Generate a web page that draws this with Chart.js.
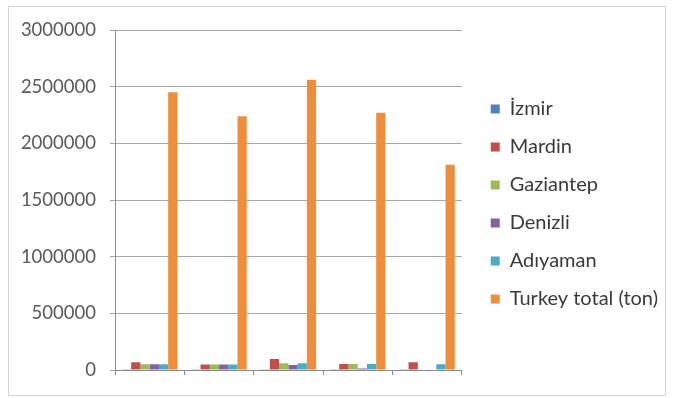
<!DOCTYPE html>
<html>
<head>
<meta charset="utf-8">
<script src="https://cdn.jsdelivr.net/npm/chart.js@4/dist/chart.umd.min.js"></script>
<style>
  html, body { margin: 0; padding: 0; background: #ffffff; }
  #wrap { position: relative; width: 673px; height: 398px; }
</style>
</head>
<body>
<div id="wrap"><canvas id="c" width="673" height="398"></canvas></div>
<script>
// Category slots along the x axis (unlabelled groups)
const categories = ['', '', '', '', ''];

// Production per province and national total, in tons
const izmir     = [3000, 3000, 3000, 3000, 3000];
const mardin    = [68000, 48000, 97000, 53000, 68000];
const gaziantep = [50000, 48000, 59000, 53000, 5000];
const denizli   = [50000, 48000, 44000, 13000, 5000];
const adiyaman  = [50000, 48000, 59000, 53000, 50000];
const turkeyTotal = [2450000, 2240000, 2560000, 2270000, 1810000];

const seriesNames = ['İzmir', 'Mardin', 'Gaziantep', 'Denizli', 'Adıyaman', 'Turkey total (ton)'];
const seriesColors = ['#4F81BD', '#C0504D', '#9BBB59', '#8064A2', '#4BACC6', '#EE8E3C'];

// Value axis ticks
const yTicks = [0, 500000, 1000000, 1500000, 2000000, 2500000, 3000000];

const seriesValues = [izmir, mardin, gaziantep, denizli, adiyaman, turkeyTotal];

const FONT = 'Lato';
const TICK_SIZE = 18.5;
const LEGEND_SIZE = 20;

const frame = {
  id: 'frame',
  beforeDraw(chart) {
    const ctx = chart.ctx;
    ctx.save();
    ctx.fillStyle = '#ffffff';
    ctx.fillRect(0, 0, chart.width, chart.height);
    ctx.strokeStyle = '#d4d4d4';
    ctx.lineWidth = 1;
    ctx.strokeRect(8.5, 6.5, 657, 389);
    ctx.restore();
  }
};

function draw() {
  new Chart(document.getElementById('c'), {
    type: 'bar',
    data: {
      labels: categories,
      datasets: seriesNames.map((name, i) => ({
        label: name,
        data: seriesValues[i],
        backgroundColor: seriesColors[i],
        borderWidth: 0,
        barPercentage: 1,
        categoryPercentage: 0.8
      }))
    },
    options: {
      responsive: false,
      animation: false,
      layout: { padding: { left: 0, top: 30, right: 5, bottom: 20 } },
      plugins: {
        tooltip: { enabled: false },
        legend: {
          position: 'right',
          maxWidth: 260,
          labels: {
            boxWidth: 9,
            boxHeight: 9,
            padding: 38 - LEGEND_SIZE,
            color: '#3a3a3a',
            font: { family: FONT, size: LEGEND_SIZE }
          }
        }
      },
      scales: {
        x: {
          grid: { display: true, drawOnChartArea: false, drawTicks: true, tickLength: 5, offset: true, color: '#8c8c8c' },
          border: { display: true, color: '#8c8c8c' },
          ticks: { display: false },
          afterFit(s) { s.height = 8; }
        },
        y: {
          min: 0,
          max: 3000000,
          afterBuildTicks(s) { s.ticks = yTicks.map(v => ({ value: v })); },
          ticks: {
            padding: 14,
            color: '#595959',
            font: { family: FONT, size: TICK_SIZE },
            callback: v => String(v)
          },
          grid: { color: '#a6a6a6', tickLength: 5, drawTicks: true },
          border: { display: true, color: '#8c8c8c' },
          afterFit(s) { s.width = 115; }
        },
        gap: {
          type: 'linear',
          position: 'right',
          display: true,
          grid: { display: false },
          ticks: { display: false },
          border: { display: false },
          afterFit(s) { s.width = 11; }
        }
      }
    },
    plugins: [frame]
  });
}

Promise.all([
  document.fonts.load(TICK_SIZE + 'px ' + FONT),
  document.fonts.load(LEGEND_SIZE + 'px ' + FONT)
]).then(draw, draw);
</script>
</body>
</html>
